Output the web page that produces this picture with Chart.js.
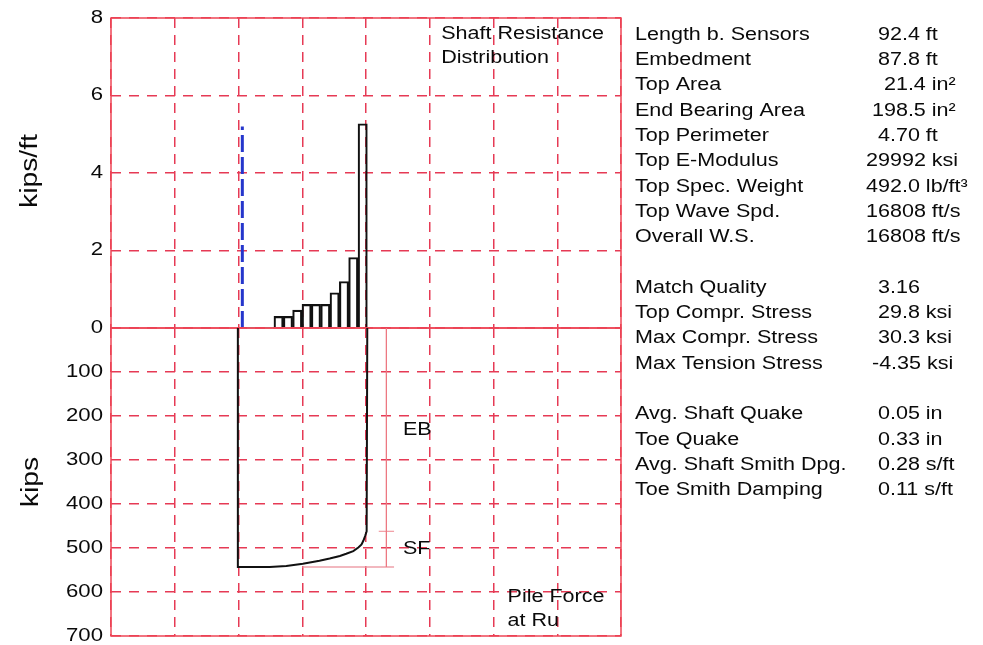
<!DOCTYPE html>
<html>
<head>
<meta charset="utf-8">
<script src="https://cdn.jsdelivr.net/npm/chart.js"></script>
<style>
  body { margin: 0; background: #fff; }
  #wrap { position: relative; width: 983px; height: 645px; overflow: hidden; }
  #wrap canvas { position: absolute; left: 0; top: 0; }
</style>
</head>
<body>
<div id="wrap">
  <canvas id="graficoResistencia" width="983" height="660"></canvas>
  <canvas id="graficoForca" width="983" height="660"></canvas>
</div>
<script>
// shaft resistance per segment (kips/ft), x = position along the pile plot axis
const segments = [2.629, 2.776, 2.922, 3.069, 3.215, 3.362, 3.508, 3.655, 3.801, 3.948];
const shaftRes = [0.30, 0.30, 0.46, 0.61, 0.61, 0.61, 0.91, 1.20, 1.82, 5.27];

// no-resistance segments (drawn as grey line on zero)
const zeroSegX = [2.02, 2.56];
const zeroSegY = [0, 0];

// blue dashed marker
const markerX = [2.06, 2.06];
const markerY = [0, 5.2];

// pile force at Ru (kips)
const forceX = [1.99, 1.99, 2.49, 2.75, 3.01, 3.27, 3.43, 3.59, 3.69, 3.80, 3.88, 3.93, 3.96, 3.99, 4.01, 4.02];
const forceKips = [0, 543, 543, 541, 536, 529, 524, 518, 513, 507, 499, 492, 483, 471, 462, 0];

// EB / SF brackets
const ebLineX = [4.32, 4.32];
const ebLineY = [0, 543];
const sfTickX = [4.20, 4.44];
const sfTickY = [462, 462];
const baseLineX = [3.0, 4.44];
const baseLineY = [543, 543];

const resTicks = [0, 2, 4, 6, 8];
const kipsTicks = [0, 100, 200, 300, 400, 500, 600, 700];

// results table
const tableLabels = [
  'Length b. Sensors', 'Embedment', 'Top Area', 'End Bearing Area', 'Top Perimeter',
  'Top E-Modulus', 'Top Spec. Weight', 'Top Wave Spd.', 'Overall W.S.', '',
  'Match Quality', 'Top Compr. Stress', 'Max Compr. Stress', 'Max Tension Stress', '',
  'Avg. Shaft Quake', 'Toe Quake', 'Avg. Shaft Smith Dpg.', 'Toe Smith Damping'
];
const tableValues = [
  '  92.4 ft', '  87.8 ft', '   21.4 in²', ' 198.5 in²', '  4.70 ft',
  '29992 ksi', '492.0 lb/ft³', '16808 ft/s', '16808 ft/s', '',
  '  3.16', '  29.8 ksi', '  30.3 ksi', ' -4.35 ksi', '',
  '  0.05 in', '  0.33 in', '  0.28 s/ft', '  0.11 s/ft'
];

const FONT = '"Liberation Sans", Arial, sans-serif';
const STRETCH = 1.23;
const GRID = '#e63a55';
const FRAME = '#ee4656';

function pts(xs, ys) {
  return xs.map((x, i) => ({ x: x, y: ys[i] }));
}

// wide text like the original plot software
function wideText(ctx, txt, x, y, size, align) {
  ctx.save();
  ctx.font = size + 'px ' + FONT;
  ctx.fillStyle = '#0a0a0a';
  ctx.textBaseline = 'middle';
  ctx.textAlign = 'left';
  const w = ctx.measureText(txt).width * STRETCH;
  let x0 = x;
  if (align === 'center') x0 = x - w / 2;
  if (align === 'right') x0 = x - w;
  ctx.translate(x0, y);
  ctx.scale(STRETCH, 1);
  ctx.fillText(txt, 0, 0);
  ctx.restore();
}

function axisTitle(ctx, txt, x, y) {
  ctx.save();
  ctx.font = '23px ' + FONT;
  ctx.fillStyle = '#0a0a0a';
  ctx.textBaseline = 'alphabetic';
  ctx.textAlign = 'center';
  ctx.translate(x, y);
  ctx.rotate(-Math.PI / 2);
  ctx.scale(STRETCH, 1);
  ctx.fillText(txt, 0, 0);
  ctx.restore();
}

// tick labels of the y scale, drawn with the same wide lettering
function tickLabels(chart, skipZero) {
  const ys = chart.scales.y;
  ys.ticks.forEach(t => {
    if (skipZero && t.value === 0) return;
    wideText(chart.ctx, String(t.value), ys.right - 8, ys.getPixelForValue(t.value), 18, 'right');
  });
}

const framePlugin = {
  id: 'frame',
  beforeDatasetsDraw(chart) {
    const a = chart.chartArea;
    const ctx = chart.ctx;
    ctx.save();
    ctx.strokeStyle = FRAME;
    ctx.lineWidth = 1.5;
    ctx.strokeRect(a.left, a.top, a.right - a.left, a.bottom - a.top);
    ctx.restore();
  }
};

function xScale() {
  return {
    type: 'linear', min: 0, max: 8, offset: false,
    ticks: { display: false, stepSize: 1 },
    grid: { color: GRID, lineWidth: 1.5, drawTicks: false, offset: false },
    border: { display: false, dash: [10, 7] },
    afterFit: s => { s.height = 0; }
  };
}

function yScale(min, max, ticks, reverse) {
  return {
    type: 'linear', min: min, max: max, reverse: reverse,
    afterBuildTicks: s => { s.ticks = ticks.map(v => ({ value: v })); },
    ticks: { display: false },
    grid: { color: GRID, lineWidth: 1.5, drawTicks: false },
    border: { display: false, dash: [10, 8] },
    afterFit: s => { s.width = 111; }
  };
}

new Chart(document.getElementById('graficoResistencia'), {
  type: 'scatter',
  data: {
    datasets: [
      { type: 'line', data: pts(markerX, markerY), borderColor: '#2536cc', borderWidth: 3,
        borderDash: [17, 5], pointRadius: 0 },
      { type: 'line', data: pts(zeroSegX, zeroSegY), borderColor: '#8a8a8a', borderWidth: 1.5, pointRadius: 0 },
      { type: 'bar', data: pts(segments, shaftRes), backgroundColor: 'rgba(255,255,255,0)',
        borderColor: '#111', borderWidth: 1.5, barPercentage: 1, categoryPercentage: 1 }
    ]
  },
  options: {
    responsive: false,
    animation: false,
    layout: { padding: { left: 0, top: 18, right: 362, bottom: 332 } },
    plugins: { legend: { display: false }, tooltip: { enabled: false } },
    scales: { x: xScale(), y: yScale(0, 8, resTicks, false) }
  },
  plugins: [framePlugin, {
    id: 'textos',
    afterDraw(chart) {
      const ctx = chart.ctx;
      const xs = chart.scales.x, ys = chart.scales.y;
      tickLabels(chart, false);
      wideText(ctx, 'Shaft Resistance', xs.getPixelForValue(5.18), ys.getPixelForValue(7.58), 17.5, 'left');
      wideText(ctx, 'Distribution', xs.getPixelForValue(5.18), ys.getPixelForValue(6.96), 17.5, 'left');
      axisTitle(ctx, 'kips/ft', 37, 171);
      axisTitle(ctx, 'kips', 38, 482);
      tableLabels.forEach((lab, i) => {
        const y = 35 + i * 25.3;
        if (lab) wideText(ctx, lab, 635, y, 17.5, 'left');
        if (tableValues[i]) wideText(ctx, tableValues[i], 866, y, 17.5, 'left');
      });
    }
  }]
});

new Chart(document.getElementById('graficoForca'), {
  type: 'scatter',
  data: {
    datasets: [
      { type: 'line', data: pts(ebLineX, ebLineY), borderColor: 'rgba(236,120,130,0.9)', borderWidth: 1, pointRadius: 0 },
      { type: 'line', data: pts(sfTickX, sfTickY), borderColor: 'rgba(236,120,130,0.9)', borderWidth: 1, pointRadius: 0 },
      { type: 'line', data: pts(baseLineX, baseLineY), borderColor: 'rgba(236,150,160,0.9)', borderWidth: 1.5, pointRadius: 0 },
      { type: 'line', data: pts(forceX, forceKips), borderColor: '#111', borderWidth: 2, pointRadius: 0, tension: 0 }
    ]
  },
  options: {
    responsive: false,
    animation: false,
    layout: { padding: { left: 0, top: 328, right: 362, bottom: 24 } },
    plugins: { legend: { display: false }, tooltip: { enabled: false } },
    scales: { x: xScale(), y: yScale(0, 700, kipsTicks, true) }
  },
  plugins: [framePlugin, {
    id: 'rotulos',
    afterDraw(chart) {
      const ctx = chart.ctx;
      const xs = chart.scales.x, ys = chart.scales.y;
      tickLabels(chart, true);
      wideText(ctx, 'EB', xs.getPixelForValue(4.58), ys.getPixelForValue(232), 17.5, 'left');
      wideText(ctx, 'SF', xs.getPixelForValue(4.58), ys.getPixelForValue(503), 17.5, 'left');
      wideText(ctx, 'Pile Force', xs.getPixelForValue(6.22), ys.getPixelForValue(612), 17.5, 'left');
      wideText(ctx, 'at Ru', xs.getPixelForValue(6.22), ys.getPixelForValue(667), 17.5, 'left');
    }
  }]
});
</script>
</body>
</html>
